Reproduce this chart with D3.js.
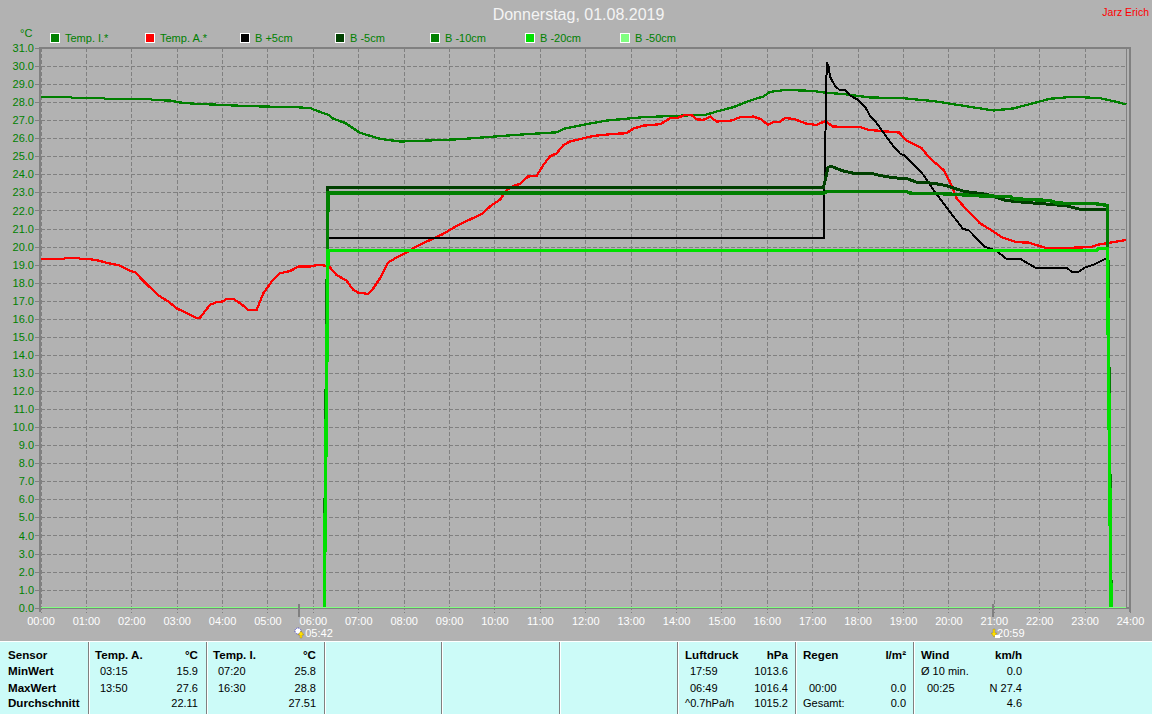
<!DOCTYPE html>
<html>
<head>
<meta charset="utf-8">
<style>
html,body{margin:0;padding:0;background:#b2b2b2;overflow:hidden}
svg{display:block}
text{font-family:"Liberation Sans",Arial,sans-serif;font-size:11px}
</style>
<script src="https://cdnjs.cloudflare.com/ajax/libs/d3/7.8.5/d3.min.js"></script>
</head>
<body>
<svg id="c" width="1152" height="714"></svg>
<script>
const titleText = "Donnerstag, 01.08.2019";
const authorText = "Jarz Erich";
const unitText = "°C";
const legendNames = ["Temp. I.*","Temp. A.*","B +5cm","B -5cm","B -10cm","B -20cm","B -50cm"];

// [hour, °C]
const tempI = [[0,28.3],[.65,28.3],[.7,28.24],[1.38,28.24],[1.42,28.18],[2.41,28.18],[2.45,28.13],[2.92,28.08],[3.0,28.0],[3.35,27.92],[3.8,27.87],[4.32,27.81],[4.9,27.76],[5.64,27.72],[5.94,27.67],[6.16,27.46],[6.34,27.3],[6.45,27.08],[6.71,26.85],[7.04,26.3],[7.48,25.97],[7.92,25.82],[8.3,25.85],[9.24,25.95],[10.49,26.19],[11.37,26.33],[11.52,26.52],[12.03,26.78],[12.47,26.98],[13.28,27.17],[14.67,27.31],[14.89,27.48],[15.26,27.72],[15.63,28.09],[15.92,28.31],[16.07,28.57],[16.43,28.68],[17.02,28.62],[17.24,28.54],[17.76,28.43],[18.27,28.26],[19.0,28.22],[19.67,28.06],[20.33,27.8],[20.99,27.54],[21.43,27.65],[22.24,28.19],[22.75,28.3],[23.34,28.22],[23.7,28.02],[23.92,27.87]];

const tempA = [[0,19.32],[.5,19.32],[.58,19.37],[.83,19.37],[.87,19.32],[1.09,19.3],[1.27,19.23],[1.46,19.1],[1.75,18.95],[1.94,18.69],[2.08,18.58],[2.38,17.82],[2.6,17.29],[2.82,16.95],[3.0,16.58],[3.22,16.31],[3.44,16.03],[3.51,16.05],[3.73,16.77],[3.88,16.92],[4.03,16.97],[4.1,17.1],[4.25,17.1],[4.4,16.86],[4.58,16.49],[4.76,16.49],[4.91,17.42],[5.09,18.06],[5.27,18.52],[5.5,18.65],[5.68,18.89],[5.94,18.89],[6.12,19.0],[6.3,18.93],[6.38,18.84],[6.52,18.43],[6.74,18.12],[6.89,17.6],[7.0,17.45],[7.22,17.38],[7.33,17.69],[7.48,18.25],[7.66,19.12],[7.85,19.41],[8.07,19.69],[8.21,19.91],[8.43,20.19],[8.87,20.7],[9.17,21.15],[9.75,21.85],[9.9,22.22],[10.12,22.59],[10.27,23.14],[10.41,23.36],[10.56,23.47],[10.74,23.88],[10.93,23.92],[11.08,24.53],[11.22,24.99],[11.37,25.17],[11.52,25.63],[11.66,25.82],[12.18,26.13],[12.62,26.24],[12.91,26.28],[13.06,26.54],[13.28,26.7],[13.65,26.78],[13.87,27.11],[14.01,27.11],[14.2,27.29],[14.34,27.29],[14.45,27.05],[14.6,27.02],[14.75,27.2],[14.89,26.93],[15.22,26.98],[15.41,27.17],[15.7,27.2],[15.88,27.05],[16.02,26.74],[16.14,26.89],[16.29,26.91],[16.4,27.13],[16.62,27.05],[16.88,26.8],[17.1,26.74],[17.28,26.95],[17.46,26.65],[17.83,26.62],[18.05,26.62],[18.23,26.47],[18.49,26.41],[18.91,26.32],[19.08,25.88],[19.41,25.45],[19.59,24.9],[19.89,24.25],[20.03,23.61],[20.18,22.68],[20.4,22.04],[20.69,21.3],[20.99,20.84],[21.17,20.52],[21.5,20.24],[21.76,20.23],[22.16,19.91],[22.38,19.91],[23.12,19.97],[23.34,20.13],[23.92,20.37]];

const bPlus5 = [[6.25,0],[6.333,20.5],[17.25,20.5],[17.32,30.2],[17.36,29.98],[17.39,29.42],[17.5,28.91],[17.6,28.68],[17.74,28.65],[17.83,28.37],[18.01,28.13],[18.18,27.67],[18.27,27.26],[18.42,26.84],[18.64,26.06],[18.82,25.45],[18.95,25.12],[19.02,25.08],[19.26,24.47],[19.45,23.97],[19.67,23.14],[19.92,22.31],[20.18,21.44],[20.33,20.96],[20.44,20.93],[20.69,20.28],[20.8,20.0],[21.06,19.76],[21.27,19.34],[21.58,19.32],[21.91,18.84],[22.6,18.84],[22.71,18.62],[22.88,18.62],[23.01,18.84],[23.19,18.99],[23.45,19.32],[23.5,19.35],[23.583,0]];

const bMinus5 = [[6.25,0],[6.333,23.3],[17.25,23.3],[17.35,24.4],[17.43,24.44],[17.65,24.21],[17.9,24.07],[18.35,24.03],[18.53,23.92],[18.79,23.81],[19.08,23.77],[19.3,23.57],[19.67,23.51],[19.96,23.37],[20.33,23.07],[20.84,22.89],[21.28,22.55],[21.65,22.46],[22.09,22.37],[22.6,22.26],[22.9,22.07],[23.5,22.07],[23.583,0]];

const bMinus10 = [[6.25,0],[6.333,22.96],[17.25,22.96],[17.33,23.05],[19.08,23.05],[19.15,22.96],[19.96,22.92],[20.69,22.81],[21.36,22.77],[21.43,22.65],[22.24,22.55],[22.38,22.41],[23.26,22.37],[23.5,22.28],[23.583,0]];

const bMinus20 = [[6.25,0],[6.333,19.8],[23.26,19.8],[23.3,19.88],[23.5,19.88],[23.583,0]];

const bMinus50 = [[0,0],[23.92,0]];

const seriesData = [tempI,tempA,bPlus5,bMinus5,bMinus10,bMinus20,bMinus50];
const seriesColors = ["#007f00","#ff0000","#000000","#004000","#007f00","#00e000","#80ff80"];
const legendColors = ["#008000","#ff0000","#000000","#004000","#008000","#00e000","#80ff80"];
const seriesWidths = [2.3,2.3,2,3,3.4,3.4,1];

const yTicks = d3.range(0,32);
const xTicks = d3.range(0,25);
const sunTimes = [[5.7,"05:42"],[20.983,"20:59"]];

// stats panel
const panelSensor = ["Sensor","MinWert","MaxWert","Durchschnitt"];
const panelTempA = ["Temp. A.","°C","03:15","15.9","13:50","27.6","22.11"];
const panelTempI = ["Temp. I.","°C","07:20","25.8","16:30","28.8","27.51"];
const panelPress = ["Luftdruck","hPa","17:59","1013.6","06:49","1016.4","^0.7hPa/h","1015.2"];
const panelRain = ["Regen","l/m²","","","00:00","0.0","Gesamt:","0.0"];
const panelWind = ["Wind","km/h","Ø 10 min.","0.0","00:25","N 27.4","","4.6"];
const panelSeps = [88,206,324,441,559,677,795,913];

const svg = d3.select("#c");
const bg = "#b2b2b2", gray = "#808080", green = "#008000";
svg.append("rect").attr("width",1152).attr("height",714).attr("fill",bg);

const x = d3.scaleLinear().domain([0,24]).range([40.5,1130]);
const y = d3.scaleLinear().domain([0,31]).range([607.7,48]);

// grid + axes through d3 axis
const gy = svg.append("g").attr("transform","translate(40,0)")
  .call(d3.axisLeft(y).tickValues(yTicks).tickFormat(d3.format(".1f")).tickSize(5).tickPadding(1));
gy.select(".domain").remove();
gy.selectAll("line").attr("stroke",gray).attr("shape-rendering","crispEdges").attr("stroke-dasharray","4 2");
gy.selectAll("line").attr("x1",-5).attr("x2",1086);
gy.selectAll("text").attr("fill",green).style("font-size","11px");

const gx = svg.append("g").attr("transform","translate(0,608)")
  .call(d3.axisBottom(x).tickValues(xTicks).tickFormat(d=>String(d).padStart(2,"0")+":00").tickSize(5).tickPadding(4));
gx.select(".domain").remove();
gx.selectAll("line").attr("stroke",gray).attr("shape-rendering","crispEdges").attr("stroke-dasharray","4 2")
  .attr("y1",-560).attr("y2",5);
gx.selectAll("text").attr("fill","#ffffff").style("font-size","11px");

// frame
const frame = svg.append("g").attr("stroke",gray).attr("shape-rendering","crispEdges");
frame.append("line").attr("x1",40).attr("x2",1131).attr("y1",48).attr("y2",48).attr("stroke-width",2);
frame.append("line").attr("x1",40).attr("x2",40).attr("y1",47).attr("y2",612).attr("stroke-width",2);
frame.append("line").attr("x1",40).attr("x2",1131).attr("y1",608).attr("y2",608).attr("stroke-width",2);
frame.append("line").attr("x1",1126.5).attr("x2",1126.5).attr("y1",48).attr("y2",608).attr("stroke-width",1);
frame.append("line").attr("x1",1130).attr("x2",1130).attr("y1",47).attr("y2",612).attr("stroke-width",2);

// series
const line = d3.line().x(d=>x(d[0])).y(d=>y(d[1]));
svg.append("g").attr("fill","none").selectAll("path").data(seriesData).join("path")
  .attr("d",line)
  .attr("stroke",(d,i)=>seriesColors[i])
  .attr("stroke-width",(d,i)=>seriesWidths[i])
  .attr("stroke-linejoin","miter")
  .attr("shape-rendering","crispEdges");

// title etc.
svg.append("text").attr("x",578.5).attr("y",20).attr("text-anchor","middle").attr("fill","#f4f4f4")
  .style("font-size","16px").text(titleText);
svg.append("text").attr("x",1149).attr("y",16).attr("text-anchor","end").attr("fill","#ff0000")
  .style("font-size","10.5px").text(authorText);
svg.append("text").attr("x",20).attr("y",37).attr("fill",green).text(unitText);

// legend
const lg = svg.append("g").selectAll("g").data(legendNames).join("g")
  .attr("transform",(d,i)=>`translate(${50+i*95},33)`);
lg.append("rect").attr("x",.5).attr("y",.5).attr("width",9).attr("height",9)
  .attr("fill",(d,i)=>legendColors[i]).attr("stroke","#ffffff").attr("shape-rendering","crispEdges");
lg.append("text").attr("x",15).attr("y",9).attr("fill",green).text(d=>d);

// sunrise / sunset markers
sunTimes.forEach((s,i)=>{
  const sx = x(s[0]);
  svg.append("rect").attr("x",Math.round(sx)-1).attr("y",604).attr("width",2).attr("height",13).attr("fill",gray);
  const ic = svg.append("g").attr("transform",`translate(${Math.round(sx)},633)`);
  if(i===0){
    ic.append("circle").attr("cx",-1).attr("cy",-2).attr("r",3).attr("fill","#ffffff").attr("stroke","#3030c0").attr("stroke-dasharray","1 1").attr("stroke-width",1);
    ic.append("path").attr("d","M2,-2 L5,2 L3,2 L3,5 L1,5 L1,2 L-1,2 Z").attr("fill","#ffe000").attr("stroke","#806000").attr("stroke-width",.3);
  } else {
    ic.append("path").attr("d","M1,4 L-2,0 L0,0 L0,-4 L2,-4 L2,0 L4,0 Z").attr("fill","#ffe000").attr("stroke","#806000").attr("stroke-width",.3);
    ic.append("rect").attr("x",2).attr("y",2).attr("width",5).attr("height",3).attr("fill","#ffffff");
  }
  svg.append("text").attr("x",sx+(i===0?6:4)).attr("y",637).attr("fill","#ffffff").text(s[1]);
});

// stats panel
svg.append("rect").attr("x",0).attr("y",641).attr("width",1152).attr("height",73).attr("fill","#ccfbf8");
svg.append("rect").attr("x",0).attr("y",641).attr("width",1152).attr("height",1).attr("fill","#ffffff");
svg.append("g").selectAll("rect").data(panelSeps).join("rect")
  .attr("x",d=>d).attr("y",642).attr("width",1).attr("height",72).attr("fill",gray);
svg.append("g").selectAll("rect").data(panelSeps).join("rect")
  .attr("x",d=>d+1).attr("y",642).attr("width",1).attr("height",72).attr("fill","#ffffff");

const rowY = [659,675,692,707];
const panel = svg.append("g").attr("fill","#000000");
panelSensor.forEach((t,i)=>panel.append("text").attr("x",8).attr("y",rowY[i]).attr("font-weight","bold").style("font-size","11.6px").text(t));

function block(cells, lx, ix, rx){
  // cells: header left, header right, then (left,right) for each further row
  panel.append("text").attr("x",lx).attr("y",rowY[0]).attr("font-weight","bold").style("font-size","11.6px").text(cells[0]);
  panel.append("text").attr("x",rx).attr("y",rowY[0]).attr("text-anchor","end").attr("font-weight","bold").style("font-size","11.6px").text(cells[1]);
  const rest = cells.slice(2);
  for(let r=0;r<rest.length;r+=2){
    const row = r/2+1;
    if(rest[r]) panel.append("text").attr("x",/^[0-9]/.test(rest[r])?ix:lx).attr("y",rowY[row]).text(rest[r]);
    if(rest[r+1]) panel.append("text").attr("x",rx).attr("y",rowY[row]).attr("text-anchor","end").text(rest[r+1]);
  }
}
// the averages row of the two temperature blocks holds only a right-hand value
block([panelTempA[0],panelTempA[1],panelTempA[2],panelTempA[3],panelTempA[4],panelTempA[5],"",panelTempA[6]],95,100,198);
block([panelTempI[0],panelTempI[1],panelTempI[2],panelTempI[3],panelTempI[4],panelTempI[5],"",panelTempI[6]],213,218,316);
block(panelPress,685,690,788);
block(panelRain,803,809,906);
block(panelWind,921,927,1022);
</script>
</body>
</html>
